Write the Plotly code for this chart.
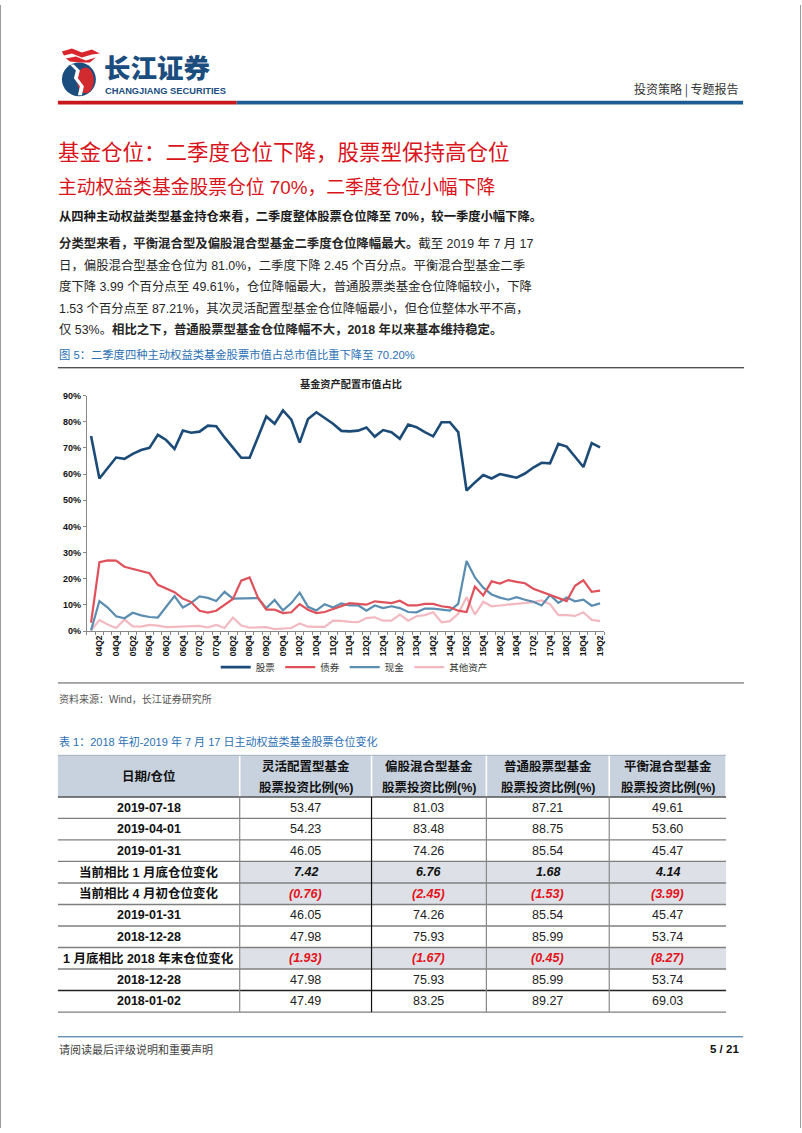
import plotly.graph_objects as go

W, H = 802, 1133
def X(px): return px / W
def Y(py): return 1 - py / H

FONT = "Liberation Sans, Arial, Noto Sans CJK SC, sans-serif"

# ---------------- chart data ----------------
quarters = ["04Q1","04Q2","04Q3","04Q4","05Q1","05Q2","05Q3","05Q4","06Q1","06Q2","06Q3","06Q4",
            "07Q1","07Q2","07Q3","07Q4","08Q1","08Q2","08Q3","08Q4","09Q1","09Q2","09Q3","09Q4",
            "10Q1","10Q2","10Q3","10Q4","11Q1","11Q2","11Q3","11Q4","12Q1","12Q2","12Q3","12Q4",
            "13Q1","13Q2","13Q3","13Q4","14Q1","14Q2","14Q3","14Q4","15Q1","15Q2","15Q3","15Q4",
            "16Q1","16Q2","16Q3","16Q4","17Q1","17Q2","17Q3","17Q4","18Q1","18Q2","18Q3","18Q4",
            "19Q1","19Q2"]
stock = [74.5,58.3,62.3,66.3,65.8,67.7,69.2,70.0,75.0,73.0,69.6,76.6,75.8,76.2,78.5,78.3,
         74.0,70.0,66.2,66.2,74.0,82.0,79.2,84.3,80.8,72.0,81.0,83.6,81.4,79.2,76.5,76.3,
         76.6,77.8,74.3,76.8,76.0,73.5,78.9,77.9,76.0,74.4,79.8,79.8,76.0,53.7,56.8,59.6,
         58.3,60.0,59.3,58.6,60.2,62.5,64.3,64.1,71.5,70.5,66.6,62.7,71.8,70.2]
bond = [3.2,26.3,27.0,26.9,24.6,23.7,23.0,22.1,17.7,16.4,14.9,12.4,11.1,7.8,7.1,7.8,
        10.0,12.3,19.3,20.5,12.8,8.2,8.2,6.9,7.2,10.3,8.2,6.9,7.3,8.5,9.7,10.7,
        10.4,10.1,11.4,11.1,10.7,11.6,9.8,9.8,10.4,10.4,9.5,9.1,7.8,7.3,17.0,13.6,
        19.0,18.2,19.5,18.8,18.3,16.2,15.0,13.6,12.6,11.5,17.3,19.4,15.0,15.5]
cash = [0.3,11.5,9.0,5.7,4.9,7.0,6.0,5.4,5.2,9.3,13.4,9.0,10.8,13.3,12.7,11.5,
        15.0,12.4,12.4,12.4,12.6,8.8,11.9,7.9,10.7,14.7,9.3,7.9,10.3,9.0,10.6,9.8,
        9.9,7.8,9.8,8.8,9.5,8.8,7.3,7.2,8.6,8.6,8.2,7.8,10.4,26.8,20.5,16.6,
        14.0,12.8,12.0,13.0,12.0,11.2,9.8,13.8,10.8,12.8,11.4,12.0,9.7,10.6]
other = [0.3,4.2,2.5,1.2,4.4,1.8,1.7,2.4,2.1,1.5,1.6,1.8,1.9,2.0,1.4,2.4,
         1.2,5.2,2.1,1.3,1.4,1.5,0.8,1.0,1.2,2.9,1.7,1.6,1.6,4.0,3.9,3.5,
         3.4,5.0,5.3,4.0,4.0,6.3,4.0,5.7,6.1,7.2,3.4,3.8,6.6,12.9,6.3,11.2,
         9.5,9.8,10.1,10.4,10.7,11.1,11.7,10.3,6.1,6.1,5.8,7.2,4.3,3.8]
series_names = ["股票", "债券", "现金", "其他资产"]
series_colors = ["#1c4b78", "#e0525b", "#5a8db0", "#f3b9c1"]
y_ticks = [0, 10, 20, 30, 40, 50, 60, 70, 80, 90]
y_ticktext = ["0%", "10%", "20%", "30%", "40%", "50%", "60%", "70%", "80%", "90%"]

# ---------------- table data ----------------
tbl_header = ["日期/仓位", "灵活配置型基金<br>股票投资比例(%)", "偏股混合型基金<br>股票投资比例(%)",
              "普通股票型基金<br>股票投资比例(%)", "平衡混合型基金<br>股票投资比例(%)"]
tbl_rows = ["2019-07-18", "2019-04-01", "2019-01-31", "当前相比 1 月底仓位变化", "当前相比 4 月初仓位变化",
            "2019-01-31", "2018-12-28", "1 月底相比 2018 年末仓位变化", "2018-12-28", "2018-01-02"]
tbl_flex = ["53.47", "54.23", "46.05", "7.42", "(0.76)", "46.05", "47.98", "(1.93)", "47.98", "47.49"]
tbl_partial = ["81.03", "83.48", "74.26", "6.76", "(2.45)", "74.26", "75.93", "(1.67)", "75.93", "83.25"]
tbl_stockfund = ["87.21", "88.75", "85.54", "1.68", "(1.53)", "85.54", "85.99", "(0.45)", "85.99", "89.27"]
tbl_balanced = ["49.61", "53.60", "45.47", "4.14", "(3.99)", "45.47", "53.74", "(8.27)", "53.74", "69.03"]
tbl_change_rows = [3, 4, 7]

fig = go.Figure()

# ---------------- chart traces ----------------
all_series = [stock, bond, cash, other]
widths = [2.6, 2.2, 2.2, 2.2]
for idx in [3, 2, 1, 0]:
    fig.add_trace(go.Scatter(
        x=quarters, y=all_series[idx], mode="lines", name=series_names[idx],
        line=dict(color=series_colors[idx], width=widths[idx]),
        legendrank=idx + 1, hoverinfo="skip"))

ticktext = [q if i % 2 == 1 else "" for i, q in enumerate(quarters)]

fig.update_layout(
    width=W, height=H, margin=dict(l=0, r=0, t=0, b=0),
    paper_bgcolor="white", plot_bgcolor="white",
    font=dict(family=FONT, color="#222"),
    xaxis=dict(domain=[X(87), X(605)], type="category", range=[-0.5, len(quarters) - 0.5],
               tickmode="array", tickvals=quarters, ticktext=ticktext, tickangle=-90,
               tickson="boundaries", ticks="outside", ticklen=3, tickcolor="#888",
               showline=True, linecolor="#888", linewidth=1, showgrid=False, zeroline=False,
               tickfont=dict(size=8.5, color="#111", weight="bold", family=FONT), anchor="y"),
    yaxis=dict(domain=[Y(631.7), Y(394)], range=[0, 90], tickmode="array", tickvals=y_ticks,
               ticktext=y_ticktext,
               ticks="outside", ticklen=3, tickcolor="#888", showline=True, linecolor="#888",
               linewidth=1, showgrid=False, zeroline=False,
               tickfont=dict(size=9, color="#111", weight="bold", family=FONT), anchor="x"),
    showlegend=True,
    legend=dict(orientation="h", x=X(216), y=Y(668), xanchor="left", yanchor="middle",
                font=dict(size=9.5, color="#333", family=FONT),
                bgcolor="rgba(0,0,0,0)", tracegroupgap=0),
)

shapes = []
ann = []

def text(x, y, s, size, color="#222", xanchor="left", bold=False, yanchor="middle", family=FONT, weight=None):
    if bold:
        s = "<b>" + s + "</b>"
    f = dict(size=size, color=color, family=family)
    if weight:
        f["weight"] = weight
    ann.append(dict(x=X(x), y=Y(y), xref="paper", yref="paper", text=s, showarrow=False,
                    xanchor=xanchor, yanchor=yanchor, font=f))

def hline(x0, x1, y, color, width):
    shapes.append(dict(type="line", xref="paper", yref="paper", x0=X(x0), x1=X(x1), y0=Y(y), y1=Y(y),
                       line=dict(color=color, width=width)))

def vline(x, y0, y1, color, width):
    shapes.append(dict(type="line", xref="paper", yref="paper", x0=X(x), x1=X(x), y0=Y(y0), y1=Y(y1),
                       line=dict(color=color, width=width)))

def rect(x0, y0, x1, y1, fill):
    shapes.append(dict(type="rect", xref="paper", yref="paper", x0=X(x0), x1=X(x1), y0=Y(y0), y1=Y(y1),
                       fillcolor=fill, line=dict(width=0), layer="below"))

def path(points, fill):
    s = "M " + " L ".join(f"{X(a):.5f},{Y(b):.5f}" for a, b in points) + " Z"
    shapes.append(dict(type="path", xref="paper", yref="paper", path=s,
                       fillcolor=fill, line=dict(color=fill, width=0)))

# page border
vline(0.5, 0, H, "#9a9a9a", 1)
vline(801.5, 0, H, "#9a9a9a", 1)

# ---------------- header / logo ----------------
shapes.append(dict(type="circle", xref="paper", yref="paper", x0=X(62), x1=X(96), y0=Y(92), y1=Y(58),
                   fillcolor="#1b4d7e", line=dict(width=0)))
shapes.append(dict(type="circle", xref="paper", yref="paper", x0=X(77), x1=X(94), y0=Y(89), y1=Y(63),
                   fillcolor="#d12a2f", line=dict(width=0)))
path([(74, 60), (80, 66), (78, 74), (84, 82), (82, 91), (78, 91), (80, 82), (74, 74), (76, 66), (70, 60)], "white")
path([(62, 47), (72, 44), (82, 48), (92, 45), (100, 49), (92, 50), (82, 53), (72, 49), (64, 51)], "#d9262c")
path([(66, 54), (76, 52), (86, 56), (96, 53), (90, 58), (80, 58), (70, 57)], "#d9262c")
text(102, 62, "长江证券", 26.5, "#1b4d7e", family="Noto Sans CJK SC", weight=900)
text(103, 86.5, "CHANGJIANG SECURITIES", 9.3, "#1b4d7e", bold=True)
text(742, 85, "投资策略 | 专题报告", 12, "#333", xanchor="right", family="Noto Sans CJK SC")
shapes.append(dict(type="rect", xref="paper", yref="paper", x0=X(58), x1=X(237), y0=Y(100.5), y1=Y(96.5),
                   fillcolor="#c8161d", line=dict(width=0)))
shapes.append(dict(type="rect", xref="paper", yref="paper", x0=X(237), x1=X(744), y0=Y(100.5), y1=Y(96.5),
                   fillcolor="#1c5b93", line=dict(width=0)))

# ---------------- titles & text ----------------
RED = "#d9141b"
text(56, 149, "基金仓位：二季度仓位下降，股票型保持高仓位", 21.5, RED)
text(56, 184, "主动权益类基金股票仓位 70%，二季度仓位小幅下降", 18.8, RED)
text(57, 213, "从四种主动权益类型基金持仓来看，二季度整体股票仓位降至 70%，较一季度小幅下降。", 12.3, "#1a1a1a", bold=True)
para = [
    "<b>分类型来看，平衡混合型及偏股混合型基金二季度仓位降幅最大。</b>截至 2019 年 7 月 17",
    "日，偏股混合型基金仓位为 81.0%，二季度下降 2.45 个百分点。平衡混合型基金二季",
    "度下降 3.99 个百分点至 49.61%，仓位降幅最大，普通股票类基金仓位降幅较小，下降",
    "1.53 个百分点至 87.21%，其次灵活配置型基金仓位降幅最小，但仓位整体水平不高，",
    "仅 53%。<b>相比之下，普通股票型基金仓位降幅不大，2018 年以来基本维持稳定。</b>",
]
for i, line in enumerate(para):
    text(57, 241 + i * 21.6, line, 12.4, "#262626")

BLUE = "#2c70b5"
text(57, 353, "图 5：二季度四种主动权益类基金股票市值占总市值比重下降至 70.20%", 11.3, BLUE)
hline(58, 745, 366, "#111", 1)
text(351, 382, "基金资产配置市值占比", 10.2, "#222", xanchor="center", bold=True, family="Noto Sans CJK SC")
hline(58, 745, 684, "#555", 1)
text(57, 700, "资料来源：Wind，长江证券研究所", 10, "#555")

# ---------------- table ----------------
text(57, 743, "表 1：2018 年初-2019 年 7 月 17 日主动权益类基金股票仓位变化", 11, BLUE)
col_edges = [58, 240, 372, 487, 610, 727]
head_top, head_bot, tbl_bot = 757, 799, 1016
row_h = (tbl_bot - head_bot) / len(tbl_rows)
cols_data = [tbl_flex, tbl_partial, tbl_stockfund, tbl_balanced]

for c in range(5):
    rect(col_edges[c] + (0.8 if c > 0 else 0), head_top, col_edges[c + 1] - 0.8, head_bot, "#c8d1de")
    cx = (col_edges[c] + col_edges[c + 1]) / 2
    if c == 0:
        text(cx, (head_top + head_bot) / 2, tbl_header[c], 12.5, "#111", xanchor="center", bold=True)
    else:
        top_line, bot_line = tbl_header[c].split("<br>")
        text(cx, head_top + 11.5, top_line, 12.5, "#111", xanchor="center", bold=True)
        text(cx, head_top + 32, bot_line, 12.5, "#111", xanchor="center", bold=True)

for r, label in enumerate(tbl_rows):
    y0 = head_bot + r * row_h
    yc = y0 + row_h / 2
    if r in tbl_change_rows:
        rect(col_edges[1], y0, col_edges[5], y0 + row_h, "#dde1e7")
    text((col_edges[0] + col_edges[1]) / 2, yc, label, 12.5, "#111", xanchor="center", bold=True)
    for c in range(4):
        v = cols_data[c][r]
        cx = (col_edges[c + 1] + col_edges[c + 2]) / 2
        if r in tbl_change_rows:
            col = "#e3141b" if v.startswith("(") else "#111"
            text(cx, yc, "<b><i>" + v + "</i></b>", 12.5, col, xanchor="center")
        else:
            text(cx, yc, v, 12.5, "#222", xanchor="center")

hline(col_edges[0], col_edges[5], head_top, "#9aa3b0", 0.8)
hline(col_edges[0], col_edges[5], head_bot, "#555", 1.4)
for r in range(1, len(tbl_rows) + 1):
    yl = head_bot + r * row_h
    hline(col_edges[0], col_edges[5], yl, "#222" if r == 9 else "#7f7f7f", 1.3)
for c in range(1, 5):
    vline(col_edges[c], head_bot, tbl_bot, "#111" if c == 2 else "#8a8a8a", 1.2)

# ---------------- footer ----------------
hline(58, 744, 1041, "#2a6593", 1)
text(57, 1053, "请阅读最后评级说明和重要声明", 11, "#444", family="Noto Sans CJK SC")
text(742, 1053, "5 / 21", 11.5, "#111", xanchor="right", bold=True)

fig.update_layout(shapes=shapes, annotations=ann)
fig.write_html("out.html", config={"displayModeBar": False},
               post_script="document.body.style.margin='0px';document.body.style.overflow='hidden';")
